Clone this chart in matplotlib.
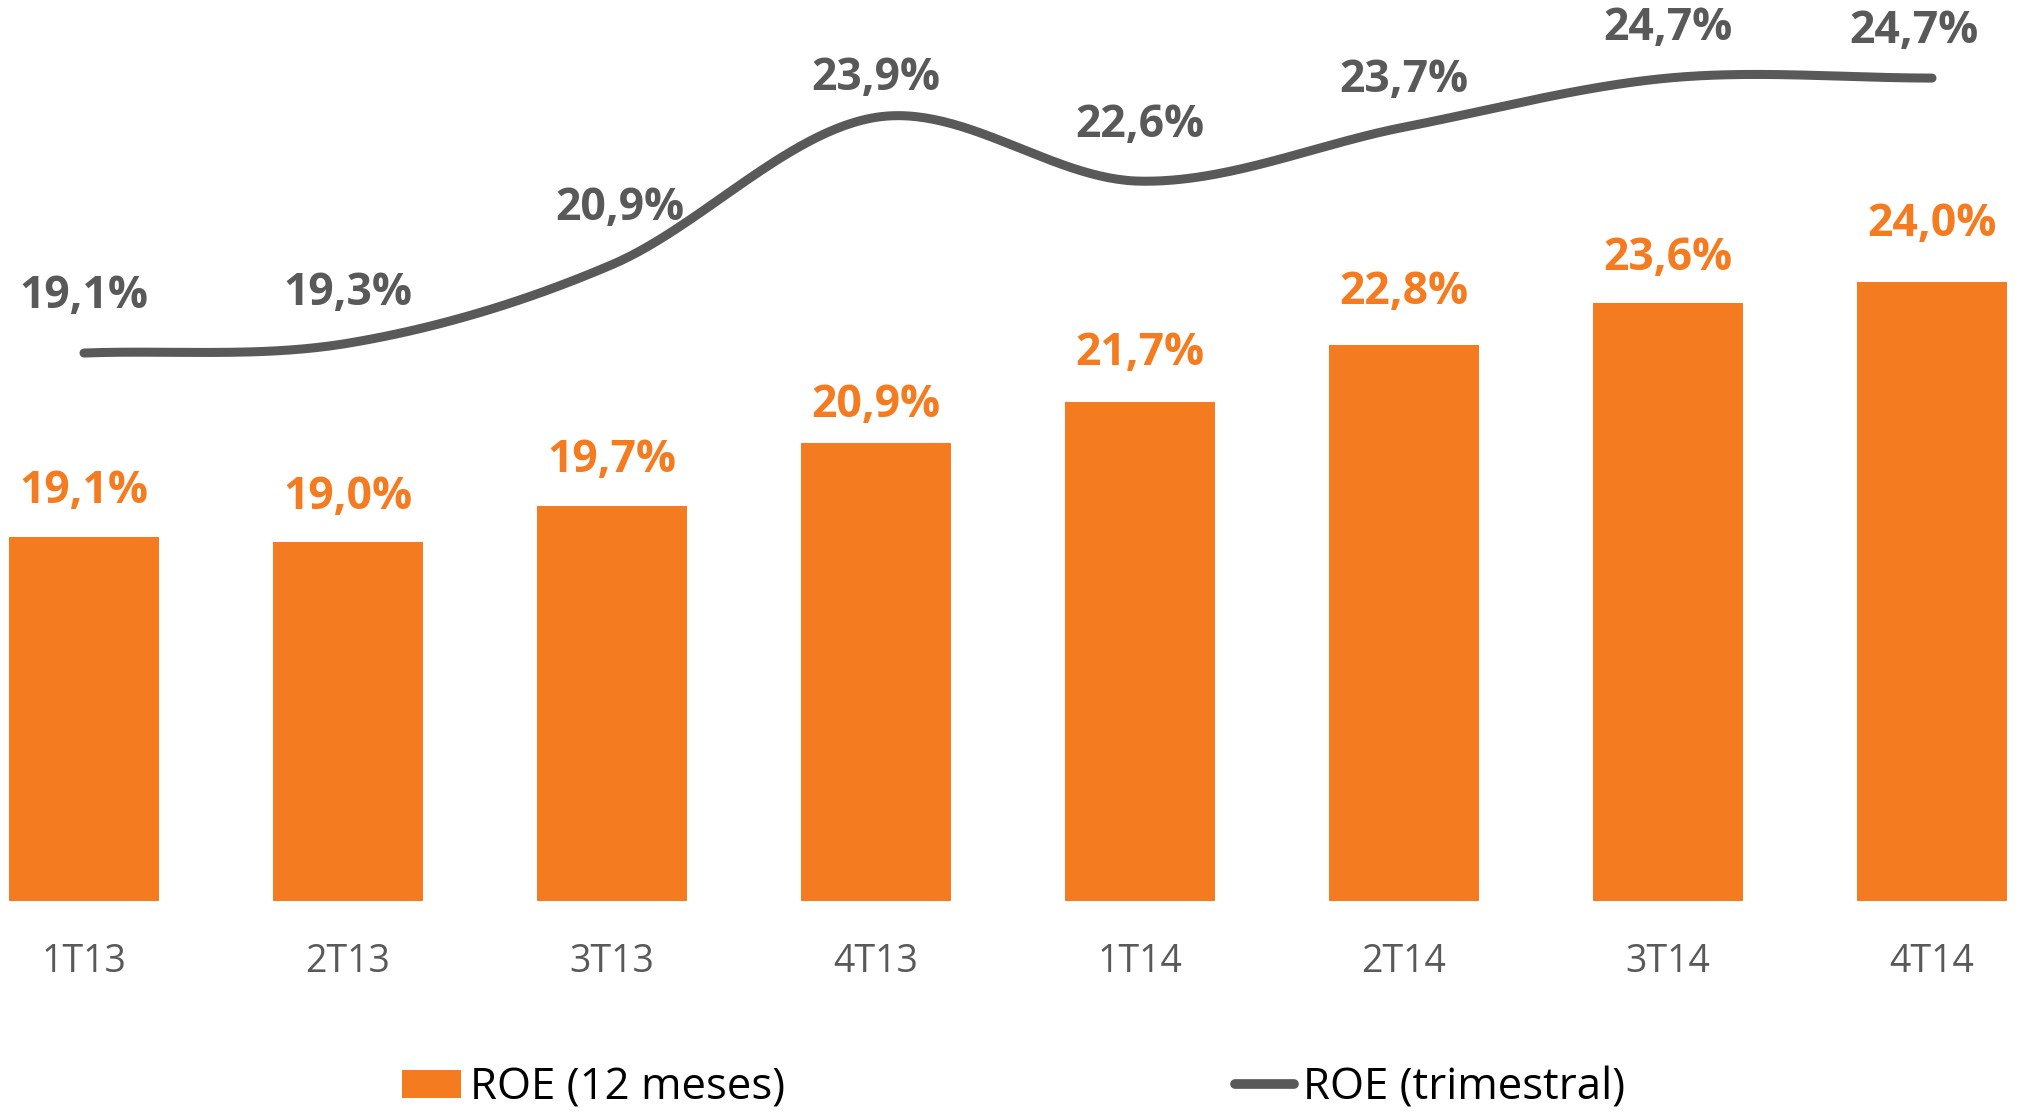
import numpy as np
import matplotlib
matplotlib.use("Agg")
import matplotlib.pyplot as plt
from matplotlib.patches import Patch
from matplotlib.lines import Line2D

# dados
quarters = ["1T13", "2T13", "3T13", "4T13", "1T14", "2T14", "3T14", "4T14"]
roe_12m = [19.1, 19.0, 19.7, 20.9, 21.7, 22.8, 23.6, 24.0]
roe_tri = [19.1, 19.3, 20.9, 23.9, 22.6, 23.7, 24.7, 24.7]

ORANGE = "#F47B20"
GRAY = "#595959"
FONT = ["Open Sans", "DejaVu Sans"]

# ajuste fino dos rótulos (px a partir do ponto)
bar_lbl_dy = [46, 45, 45, 38, 48, 52, 45, 58]
line_lbl_dy = [57, 50, 56, 39, 56, 47, 50, 47]
line_lbl_dx = [0, 0, 8, 0, 0, 0, 0, -18]


def fmt(v):
    return f"{v:.1f}".replace(".", ",") + "%"


def catmull_rom(x, y, n=60):
    """curva suavizada tipo Excel passando pelos pontos."""
    x = np.asarray(x, float)
    y = np.asarray(y, float)
    px = np.concatenate([[2 * x[0] - x[1]], x, [2 * x[-1] - x[-2]]])
    py = np.concatenate([[2 * y[0] - y[1]], y, [2 * y[-1] - y[-2]]])
    xs, ys = [], []
    t = np.linspace(0, 1, n)
    for i in range(1, len(px) - 2):
        for p, out in ((px, xs), (py, ys)):
            p0, p1, p2, p3 = p[i - 1], p[i], p[i + 1], p[i + 2]
            out.append(0.5 * ((2 * p1) + (-p0 + p2) * t
                              + (2 * p0 - 5 * p1 + 4 * p2 - p3) * t ** 2
                              + (-p0 + 3 * p1 - 3 * p2 + p3) * t ** 3))
    return np.concatenate(xs), np.concatenate(ys)


W, H = 2027, 1116
fig = plt.figure(figsize=(W / 100, H / 100), dpi=100)
ax = fig.add_axes([4.8 / W, (H - 901) / H, 2006.4 / W, 901 / H])
ax2 = ax.twinx()

x = np.arange(len(quarters))
ax.bar(x, roe_12m, width=0.57, color=ORANGE, zorder=2)
ax.set_xlim(-0.3, 7.3)
ax.set_ylim(12.1, 29.43)
ax2.set_ylim(7.94, 26.29)

sx, sy = catmull_rom(x, roe_tri)
ax2.plot(sx, sy, color=GRAY, lw=6.5, solid_capstyle="round", zorder=3)

for i, v in enumerate(roe_12m):
    ax.annotate(fmt(v), (x[i], v), xytext=(0, bar_lbl_dy[i] * 0.72),
                textcoords="offset points", ha="center", va="center",
                fontsize=32, fontweight="bold", color=ORANGE, family=FONT)
for i, v in enumerate(roe_tri):
    ax2.annotate(fmt(v), (x[i], v),
                 xytext=(line_lbl_dx[i] * 0.72, line_lbl_dy[i] * 0.72),
                 textcoords="offset points", ha="center", va="center",
                 fontsize=32, fontweight="bold", color=GRAY, family=FONT)

ax.set_xticks(x)
ax.set_xticklabels(quarters, fontsize=27, color=GRAY, family=FONT)
ax.tick_params(axis="x", length=0, pad=30)
ax.set_yticks([])
ax2.set_yticks([])
for a in (ax, ax2):
    for s in a.spines.values():
        s.set_visible(False)

handles = [Patch(facecolor=ORANGE, edgecolor="none"),
           Line2D([0], [0], color=GRAY, lw=7, solid_capstyle="round")]
fig.legend(handles, ["ROE (12 meses)", "ROE (trimestral)"], loc="center",
           bbox_to_anchor=(0.5, 1 - 1088 / H), ncol=2, frameon=False,
           prop={"family": FONT, "size": 31.5}, handlelength=1.35,
           handleheight=0.62, handletextpad=0.2, columnspacing=10.3)

fig.savefig("out.png", dpi=100)
